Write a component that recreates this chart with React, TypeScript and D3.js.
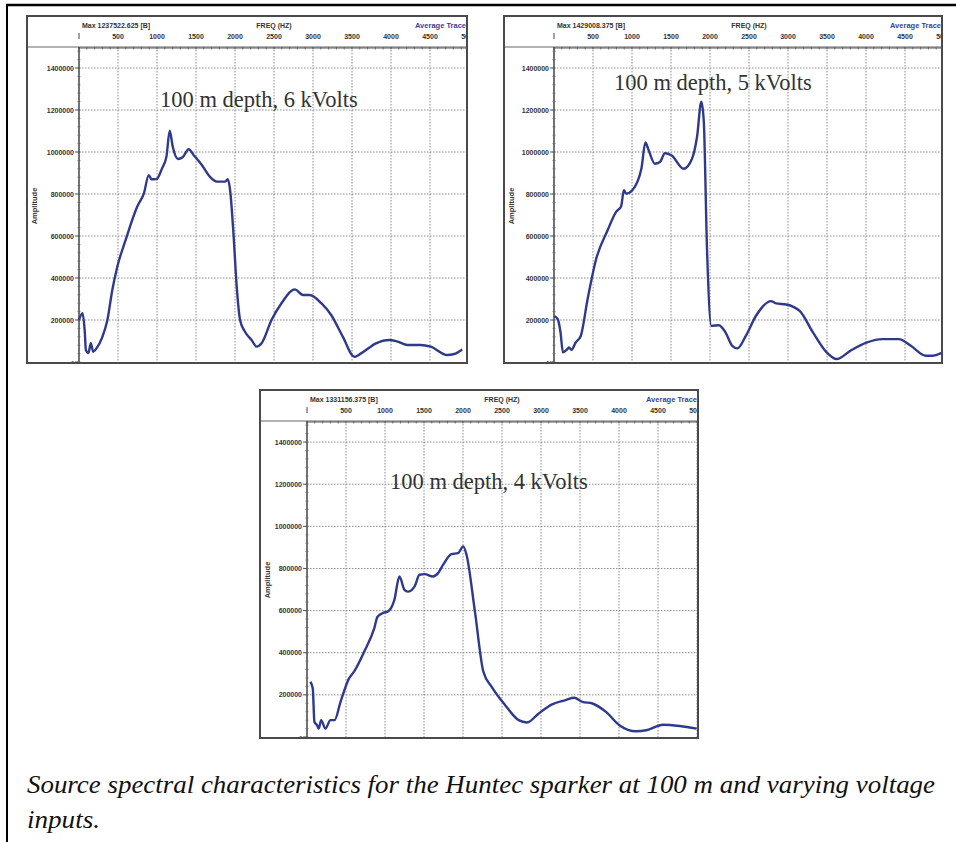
import React from 'react';
import * as d3 from 'd3';

// --- data ---
const xTickValues = [500, 1000, 1500, 2000, 2500, 3000, 3500, 4000, 4500, 5000];
const yTickValues = [0, 200000, 400000, 600000, 800000, 1000000, 1200000, 1400000];

const maxLabels = ['Max 1237522.625 [B]', 'Max 1429008.375 [B]', 'Max 1331156.375 [B]'];
const panelTitles = ['100 m depth, 6 kVolts', '100 m depth, 5 kVolts', '100 m depth, 4 kVolts'];

const kv6Freq = [0, 45, 75, 88, 121, 152, 181, 224, 300, 364, 427, 491, 598, 747, 832, 895, 930, 993, 1065, 1121, 1163, 1202, 1269, 1329, 1406, 1469, 1575, 1682, 1767, 1873, 1907, 1937, 1980, 2022, 2065, 2128, 2213, 2277, 2341, 2468, 2596, 2766, 2872, 2958, 3106, 3233, 3383, 3532, 3616, 3808, 3978, 4084, 4212, 4381, 4509, 4722, 4808, 4913];
const kv6Amp = [200000, 232000, 138000, 57000, 43000, 90000, 49000, 65000, 120000, 200000, 343000, 454000, 581000, 740000, 803000, 890000, 870000, 871000, 922000, 978000, 1101000, 1025000, 967000, 975000, 1013000, 986000, 938000, 880000, 859000, 859000, 870000, 819000, 613000, 359000, 200000, 144000, 105000, 73000, 89000, 200000, 280000, 346000, 319000, 319000, 280000, 224000, 120000, 25000, 41000, 89000, 105000, 97000, 81000, 81000, 73000, 33000, 38000, 60000];

const kv5Freq = [6, 49, 84, 114, 171, 192, 223, 278, 343, 430, 538, 689, 796, 861, 896, 926, 1004, 1120, 1172, 1207, 1293, 1358, 1422, 1509, 1661, 1768, 1833, 1889, 1920, 1962, 2018, 2114, 2200, 2286, 2351, 2459, 2588, 2782, 2847, 2977, 3150, 3322, 3495, 3625, 3798, 4013, 4207, 4423, 4575, 4769, 4855, 4984];
const kv5Amp = [219000, 203000, 140000, 46000, 61000, 69000, 58000, 93000, 124000, 298000, 487000, 629000, 715000, 742000, 818000, 802000, 818000, 920000, 1046000, 1015000, 944000, 952000, 994000, 983000, 920000, 967000, 1070000, 1240000, 1149000, 534000, 172000, 175000, 140000, 77000, 65000, 124000, 219000, 290000, 279000, 274000, 243000, 140000, 46000, 14000, 53000, 93000, 109000, 109000, 77000, 30000, 30000, 46000];

const kv4Freq = [43, 74, 95, 129, 151, 181, 236, 301, 353, 430, 539, 603, 733, 862, 904, 982, 1034, 1120, 1185, 1250, 1292, 1378, 1443, 1508, 1615, 1680, 1744, 1851, 1938, 2003, 2045, 2153, 2261, 2368, 2541, 2713, 2820, 2971, 3143, 3316, 3424, 3531, 3660, 3833, 4005, 4221, 4350, 4565, 4780, 4996];
const kv4Amp = [262000, 230000, 71000, 56000, 40000, 80000, 40000, 80000, 80000, 167000, 278000, 310000, 405000, 516000, 571000, 590000, 595000, 651000, 762000, 698000, 690000, 714000, 770000, 773000, 762000, 778000, 817000, 868000, 873000, 905000, 865000, 595000, 310000, 238000, 151000, 80000, 69000, 112000, 155000, 175000, 186000, 167000, 159000, 119000, 56000, 27000, 32000, 58000, 52000, 40000];

const captionLines = [
  'Source spectral characteristics for the Huntec sparker at 100 m and varying voltage',
  'inputs.',
];

// --- layout ---
const panels = [
  { x: 27, y: 16, w: 440, h: 347, ml: 52, tx: 81, ty: 91, freq: kv6Freq, amp: kv6Amp },
  { x: 504, y: 16, w: 438, h: 347, ml: 50, tx: 60, ty: 74, freq: kv5Freq, amp: kv5Amp },
  { x: 260, y: 390, w: 438, h: 348, ml: 47, tx: 83, ty: 99, freq: kv4Freq, amp: kv4Amp },
];

const HEADER = 31;
const PX_PER_HZ = 39 / 500;
const LINE_COLOR = '#2f3a8c';
const SANS = 'Liberation Sans, Arial, sans-serif';
const SERIF = 'Liberation Serif, Times New Roman, serif';

function Panel({ p, i }: { p: any; i: number }) {
  const left = p.x + p.ml;
  const right = p.x + p.w;
  const top = p.y + HEADER;
  const bottom = p.y + p.h;

  const x = d3.scaleLinear().domain([0, 5000]).range([left, left + 5000 * PX_PER_HZ]);
  const y = d3.scaleLinear().domain([0, 1500000]).range([bottom - 1, top]);

  const pts = p.freq.map((f: number, k: number) => [f, p.amp[k]] as [number, number]);
  const line = d3.line<[number, number]>()
    .x(d => x(d[0]))
    .y(d => y(d[1]))
    .curve(d3.curveMonotoneX);

  const clipId = `clip-${i}`;
  const minorX = d3.range(0, 5001, 100);
  const minorY = d3.range(0, 1500001, 40000);

  return (
    <g>
      <defs>
        <clipPath id={clipId}>
          <rect x={p.x + 1} y={p.y + 1} width={p.w - 2} height={p.h - 2} />
        </clipPath>
      </defs>
      <rect x={p.x} y={p.y} width={p.w} height={p.h} fill="#fff" />
      <g clipPath={`url(#${clipId})`}>
        {/* grid */}
        {xTickValues.map(v => (
          <line key={'gx' + v} x1={x(v)} x2={x(v)} y1={top} y2={bottom}
            stroke="#8c8c8c" strokeWidth={1} strokeDasharray="1.5,1.5" />
        ))}
        {yTickValues.filter(v => v > 0).map(v => (
          <line key={'gy' + v} x1={left} x2={right} y1={y(v)} y2={y(v)}
            stroke="#8c8c8c" strokeWidth={1} strokeDasharray="1.5,1.5" />
        ))}

        {/* header */}
        <line x1={p.x} x2={right} y1={top} y2={top} stroke="#9a9a9a" strokeWidth={1.5} />
        <line x1={left} x2={right} y1={top + 1} y2={top + 1} stroke="#555" strokeWidth={1} />
        {minorX.map(v => (
          <line key={'mx' + v} x1={x(v)} x2={x(v)} y1={top} y2={top + 2.5} stroke="#555" strokeWidth={0.8} />
        ))}
        <line x1={left} x2={left} y1={p.y + 17} y2={p.y + 23} stroke="#444" strokeWidth={1} />
        <text x={left + 3} y={p.y + 12} fontFamily={SANS} fontSize={7} fontWeight="bold" fill="#333">{maxLabels[i]}</text>
        <text x={x(2500)} y={p.y + 12} fontFamily={SANS} fontSize={7} fontWeight="bold" fill="#333" textAnchor="middle">FREQ (HZ)</text>
        <text x={right - 1} y={p.y + 12} fontFamily={SANS} fontSize={7.5} fontWeight="bold" fill="#3b3f9a" textAnchor="end">Average Trace</text>
        {xTickValues.map(v => (
          <text key={'tx' + v} x={x(v)} y={p.y + 22.5} fontFamily={SANS} fontSize={7} fontWeight="bold" fill="#333" textAnchor="middle">{v}</text>
        ))}

        {/* left axis */}
        <line x1={left} x2={left} y1={top} y2={bottom} stroke="#444" strokeWidth={1.5} />
        {minorY.map(v => (
          <line key={'my' + v} x1={left - 1.5} x2={left + 1.5} y1={y(v)} y2={y(v)} stroke="#666" strokeWidth={0.8} />
        ))}
        {yTickValues.map(v => (
          <g key={'ty' + v}>
            <line x1={left - 4} x2={left} y1={y(v)} y2={y(v)} stroke="#555" strokeWidth={1} />
            <text x={left - 5} y={y(v) + 2.5} fontFamily={SANS} fontSize={v === 0 ? 5 : 7} fontWeight="bold"
              fill="#333" textAnchor="end">{v}</text>
          </g>
        ))}
        <text transform={`translate(${p.x + 10},${p.y + 190}) rotate(-90)`} fontFamily={SANS} fontSize={7.5}
          fontWeight="bold" fill="#333" textAnchor="middle">Amplitude</text>

        {/* trace */}
        <path d={line(pts) || ''} fill="none" stroke={LINE_COLOR} strokeWidth={2.4} strokeLinejoin="round" />

        <text x={left + p.tx} y={p.y + p.ty} fontFamily={SERIF} fontSize={22.5} fill="#333">{panelTitles[i]}</text>
      </g>
      <rect x={p.x} y={p.y} width={p.w} height={p.h} fill="none" stroke="#4a4a4a" strokeWidth={2} />
    </g>
  );
}

export default function App() {
  return (
    <svg width={956} height={842} style={{ position: 'absolute', left: 0, top: 0, background: '#fff' }}>
      <rect x={0} y={0} width={956} height={842} fill="#fff" />
      <line x1={6} x2={956} y1={5} y2={5} stroke="#000" strokeWidth={2.5} />
      <line x1={7} x2={7} y1={4} y2={842} stroke="#000" strokeWidth={2} />
      {panels.map((p, i) => <Panel key={i} p={p} i={i} />)}
      <text x={27} y={793} fontFamily={SERIF} fontStyle="italic" fontSize={25} fill="#111"
        textLength={908} lengthAdjust="spacingAndGlyphs">{captionLines[0]}</text>
      <text x={27} y={828} fontFamily={SERIF} fontStyle="italic" fontSize={25} fill="#111"
        textLength={73} lengthAdjust="spacingAndGlyphs">{captionLines[1]}</text>
    </svg>
  );
}
